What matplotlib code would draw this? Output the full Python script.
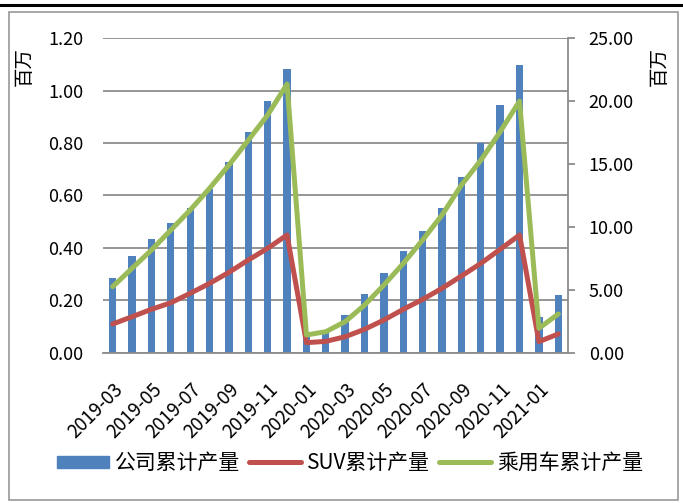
import matplotlib
matplotlib.use("Agg")
import matplotlib.pyplot as plt
from matplotlib.patches import Rectangle
from matplotlib.lines import Line2D
import numpy as np

plt.rcParams['font.family'] = ['Noto Sans CJK SC', 'DejaVu Sans']

months = ["2019-03", "2019-04", "2019-05", "2019-06", "2019-07", "2019-08",
          "2019-09", "2019-10", "2019-11", "2019-12", "2020-01", "2020-02",
          "2020-03", "2020-04", "2020-05", "2020-06", "2020-07", "2020-08",
          "2020-09", "2020-10", "2020-11", "2020-12", "2021-01", "2021-02"]
company = [0.284, 0.369, 0.433, 0.495, 0.551, 0.625, 0.729, 0.842, 0.961, 1.083,
           0.061, 0.080, 0.144, 0.224, 0.305, 0.388, 0.464, 0.551, 0.669, 0.799,
           0.945, 1.098, 0.137, 0.220]
suv = [2.28, 2.86, 3.45, 3.97, 4.72, 5.51, 6.39, 7.37, 8.30, 9.36,
       0.80, 0.90, 1.27, 1.86, 2.60, 3.45, 4.24, 5.12, 6.10, 7.10,
       8.22, 9.36, 0.88, 1.49]
passenger = [5.25, 6.71, 8.16, 9.75, 11.34, 13.07, 14.92, 16.90, 18.90, 21.36,
             1.41, 1.67, 2.47, 3.79, 5.38, 7.10, 8.96, 10.95, 13.33, 15.30,
             17.57, 20.00, 1.94, 3.08]
left_ticks = [0.0, 0.2, 0.4, 0.6, 0.8, 1.0, 1.2]
right_ticks = [0, 5, 10, 15, 20, 25]
labels = ["公司累计产量", "SUV累计产量", "乘用车累计产量"]

BLUE = "#4F81BD"
RED = "#C0504D"
GREEN = "#9BBB59"
GRID = "#8C8C8C"

fig = plt.figure(figsize=(6.83, 5.03), dpi=100)
ax = fig.add_axes([0.1508, 0.2988, 0.6808, 0.6251])
x = np.arange(len(months))

ax.bar(x, company, width=0.38, color=BLUE, zorder=2)
ax.set_xlim(-0.5, len(months) - 0.5)
ax.set_ylim(0, 1.2)
ax.set_yticks(left_ticks)
ax.set_yticklabels([f"{v:.2f}" for v in left_ticks], fontsize=13)
ax.yaxis.grid(True, color=GRID, lw=1.3, zorder=0)
ax.set_axisbelow(True)
for s in ["left", "top", "right"]:
    ax.spines[s].set_visible(False)
ax.spines["bottom"].set_color(GRID)
ax.spines["bottom"].set_linewidth(1.3)
ax.tick_params(axis="y", length=0, pad=14)
ax.tick_params(axis="x", length=0, pad=19)
ax.set_xticks(x[::2])
ax.set_xticklabels(months[::2], rotation=45, ha="right", va="top",
                   rotation_mode="anchor", fontsize=13.5)

ax2 = ax.twinx()
ax2.plot(x, suv, color=RED, lw=3.6, solid_capstyle="round", solid_joinstyle="round", zorder=3)
ax2.plot(x, passenger, color=GREEN, lw=3.6, solid_capstyle="round", solid_joinstyle="round", zorder=4)
ax2.set_ylim(0, 25)
ax2.set_yticks(right_ticks)
ax2.set_yticklabels([f"{v:.2f}" for v in right_ticks], fontsize=13)
for s in ["left", "top", "bottom"]:
    ax2.spines[s].set_visible(False)
ax2.spines["right"].set_color(GRID)
ax2.spines["right"].set_linewidth(1.3)
ax2.tick_params(axis="y", direction="out", length=5, width=1.3, color=GRID, pad=10)

fig.text(24 / 683, 1 - 67 / 503, "百万", rotation=90, fontsize=14, ha="center", va="center")
fig.text(659 / 683, 1 - 67 / 503, "百万", rotation=90, fontsize=14, ha="center", va="center")

handles = [Rectangle((0, 0), 1, 1, color=BLUE),
           Line2D([0], [0], color=RED, lw=3.6, solid_capstyle="round"),
           Line2D([0], [0], color=GREEN, lw=3.6, solid_capstyle="round")]
fig.legend(handles, labels, loc="center", bbox_to_anchor=(350 / 683, 1 - 463 / 503),
           ncol=3, frameon=False, fontsize=15, handlelength=2.5, handleheight=0.5,
           handletextpad=0.3, columnspacing=0.4, borderaxespad=0, borderpad=0)

# outer frame and top rule
fig.add_artist(Rectangle((9 / 683, 3 / 503), 669 / 683, 488 / 503, transform=fig.transFigure,
                         fill=False, edgecolor="#A0A0A0", lw=1.3))
fig.add_artist(Line2D([0, 1], [1 - 5.3 / 503, 1 - 5.3 / 503], transform=fig.transFigure,
                      color="black", lw=2.2))

fig.savefig("out.png", dpi=100)
